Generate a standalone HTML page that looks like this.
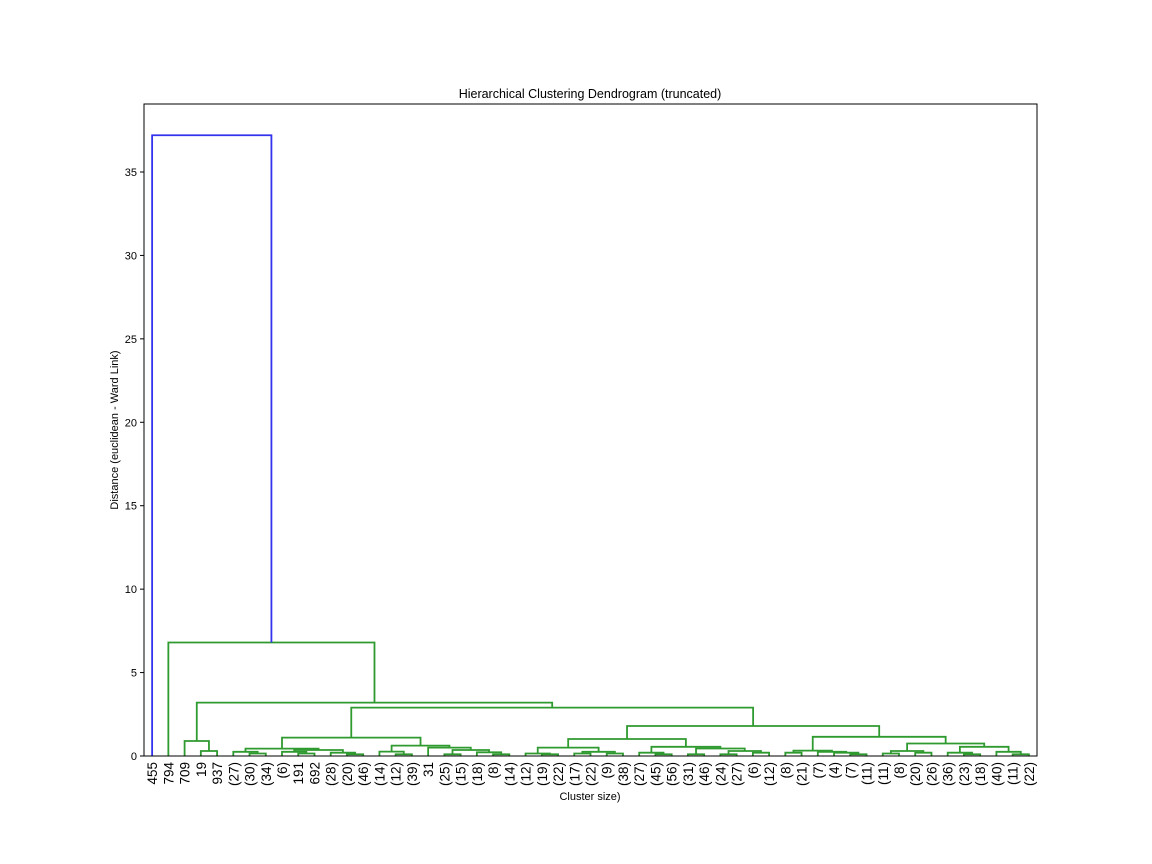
<!DOCTYPE html>
<html><head><meta charset="utf-8"><style>
body{margin:0;background:#fff;}
svg{display:block;font-family:"Liberation Sans","DejaVu Sans",sans-serif;}
</style></head><body>
<svg id="chart" width="1152" height="864" viewBox="0 0 1152 864" xmlns="http://www.w3.org/2000/svg">
<rect width="1152" height="864" fill="#fff"/>
<text x="590" y="98" font-size="12.5" text-anchor="middle">Hierarchical Clustering Dendrogram (truncated)</text>
<text transform="translate(118,430) rotate(-90)" font-size="11" text-anchor="middle">Distance (euclidean - Ward Link)</text>
<text x="590" y="800" font-size="11" text-anchor="middle">Cluster size)</text>
<g id="links"></g>
<g id="yaxis"></g>
<g id="xaxis"></g>
<rect x="144" y="104" width="893" height="652" fill="none" stroke="#000" stroke-width="1"/>
</svg>
<script>
const leafLabels = ["455","794","709","19","937","(27)","(30)","(34)","(6)","191","692","(28)","(20)","(46)","(14)","(12)","(39)","31","(25)","(15)","(18)","(8)","(14)","(12)","(19)","(22)","(17)","(22)","(9)","(38)","(27)","(45)","(56)","(31)","(46)","(24)","(27)","(6)","(12)","(8)","(21)","(7)","(4)","(7)","(11)","(11)","(8)","(20)","(26)","(36)","(23)","(18)","(40)","(11)","(22)"];
const yTicks = [0,5,10,15,20,25,30,35];
const treeA = [[5,[6,7,0.15],0.25],[[8,[9,10,0.15],0.25],[11,[12,13,0.1],0.2],0.36],0.44];
const treeB = [[14,[15,16,0.1],0.26],[17,[[18,19,0.1],[20,[21,22,0.1],0.22],0.36],0.5],0.62];
const treeE = [[[23,[24,25,0.1],0.15],[[26,27,0.15],[28,29,0.15],0.25],0.5],[[30,[31,32,0.1],0.2],[[33,34,0.1],[[35,36,0.1],[37,38,0.2],0.3],0.45],0.55],1.02];
const treeF = [[[39,40,0.2],[41,[42,[43,44,0.1],0.2],0.25],0.32],[[[45,46,0.15],[47,48,0.2],0.3],[[49,[50,51,0.1],0.2],[52,[53,54,0.1],0.25],0.55],0.75],1.15];
const treeG = [2,[3,4,0.3],0.9];
const topHeights = [1.1, 1.8, 2.9, 3.2, 6.8, 37.2];
const tree = [0,[1,[treeG,[[treeA,treeB,topHeights[0]],[treeE,treeF,topHeights[1]],topHeights[2]],topHeights[3]],topHeights[4]],topHeights[5]];

const X0=144, W=893, Y0=756, PH=652, YMAX=652/16.686;
const xs = i => X0 + (i+0.5)*W/leafLabels.length;
const ys = v => Y0 - v*(PH/YMAX);
const NS="http://www.w3.org/2000/svg";
const links=document.getElementById('links');
function draw(node, color){
  if(typeof node==='number') return {x:xs(node), h:0};
  const c = node[2] > 30 ? '#3333ee' : '#2f9a2f';
  const l = draw(node[0], c), r = draw(node[1], c);
  const p = document.createElementNS(NS,'path');
  p.setAttribute('d',`M${l.x},${ys(l.h)}V${ys(node[2])}H${r.x}V${ys(r.h)}`);
  p.setAttribute('fill','none');p.setAttribute('stroke',c);p.setAttribute('stroke-width','1.8');
  
  
  links.appendChild(p);
  return {x:(l.x+r.x)/2, h:node[2]};
}
draw(tree);
const ya=document.getElementById('yaxis');
yTicks.forEach(t=>{
  const y=ys(t);
  const ln=document.createElementNS(NS,'line');
  ln.setAttribute('x1',140);ln.setAttribute('x2',144);ln.setAttribute('y1',y);ln.setAttribute('y2',y);ln.setAttribute('stroke','#000');
  
  
  ya.appendChild(ln);
  const tx=document.createElementNS(NS,'text');
  tx.setAttribute('x',137);tx.setAttribute('y',y+4);tx.setAttribute('font-size','11');tx.setAttribute('text-anchor','end');
  tx.textContent=t;
  
  
  ya.appendChild(tx);
});
const xa=document.getElementById('xaxis');
leafLabels.forEach((lab,i)=>{
  const x=xs(i);
  const tx=document.createElementNS(NS,'text');
  tx.setAttribute('transform',`translate(${x+5},762) rotate(-90)`);
  tx.setAttribute('font-size','13.5');tx.setAttribute('text-anchor','end');
  tx.textContent=lab;
  
  
  xa.appendChild(tx);
});
</script>
</body></html>
